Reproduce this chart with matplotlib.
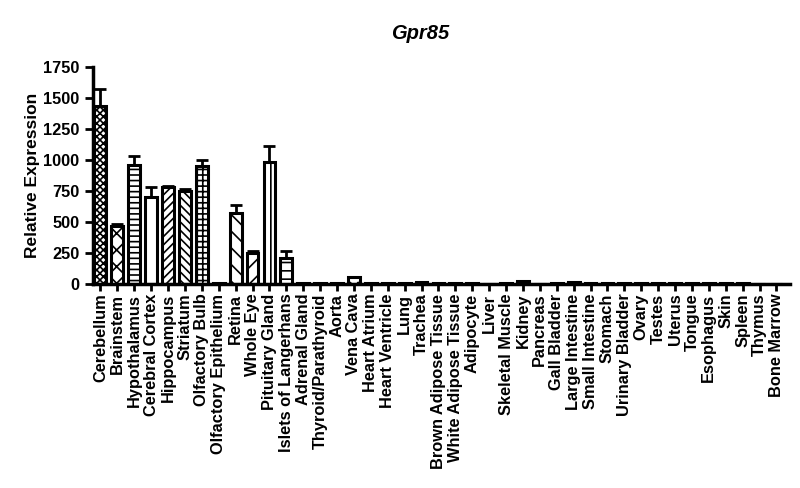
import numpy as np
import matplotlib
matplotlib.use("Agg")
from matplotlib import pyplot as plt

# tissue panel and expression values
tissues = ["Cerebellum", "Brainstem", "Hypothalamus", "Cerebral Cortex", "Hippocampus",
           "Striatum", "Olfactory Bulb", "Olfactory Epithelium", "Retina", "Whole Eye",
           "Pituitary Gland", "Islets of Langerhans", "Adrenal Gland", "Thyroid/Parathyroid",
           "Aorta", "Vena Cava", "Heart Atrium", "Heart Ventricle", "Lung", "Trachea",
           "Brown Adipose Tissue", "White Adipose Tissue", "Adipocyte", "Liver",
           "Skeletal Muscle", "Kidney", "Pancreas", "Gall Bladder", "Large Intestine",
           "Small Intestine", "Stomach", "Urinary Bladder", "Ovary", "Testes", "Uterus",
           "Tongue", "Esophagus", "Skin", "Spleen", "Thymus", "Bone Marrow"]
expr = [1435, 468, 962, 704, 782, 753, 954, 5, 575, 253,
        987, 212, 12, 8, 8, 55, 8, 5, 12, 14,
        5, 10, 10, 3, 5, 22, 3, 8, 14, 12,
        10, 10, 8, 6, 8, 8, 8, 6, 5, 3, 2]
sem = [135, 16, 73, 81, 8, 13, 49, 0, 59, 16,
       129, 54, 0, 0, 0, 0, 0, 0, 0, 0,
       0, 0, 0, 0, 0, 0, 0, 0, 0, 0,
       0, 0, 0, 0, 0, 0, 0, 0, 0, 0, 0]
hatches = ["xxxxx", "xx", "---", "|", "////", "\\\\\\\\", "+++", "", "\\\\", "//",
           "||", "--", "", "", "", "..", "", "", "", "",
           "", "", "", "", "", "", "", "", "", "",
           "", "", "", "", "", "", "", "", "", "", ""]

plt.rcParams["font.family"] = ["Liberation Sans", "DejaVu Sans"]
plt.rcParams["font.weight"] = "bold"
plt.rcParams["hatch.linewidth"] = 1.2

fig = plt.figure(figsize=(8, 4.88), dpi=100)
ax = fig.add_axes([0.116, 0.418, 0.8715, 0.445])

x = np.arange(len(tissues))
bars = ax.bar(x, expr, width=0.7, color="white", edgecolor="black", linewidth=2.2)
for b, h in zip(bars, hatches):
    b.set_hatch(h)
ax.errorbar(x, expr, yerr=[np.zeros(len(sem)), sem], fmt="none", ecolor="black",
            elinewidth=2, capsize=4, capthick=2)

ax.set_xlim(-0.45, 40.8)
ax.set_ylim(0, 1750)
ax.set_yticks(np.arange(0, 1751, 250))
ax.set_xticks(x)
ax.set_xticklabels(tissues, rotation=90, fontsize=11.8, fontweight="bold")
ax.tick_params(axis="y", labelsize=11.8, width=2, length=6, direction="out")
ax.tick_params(axis="x", width=2, length=5, direction="out", pad=2)
for lab in ax.get_yticklabels():
    lab.set_fontweight("bold")

for s in ["top", "right"]:
    ax.spines[s].set_visible(False)
for s in ["left", "bottom"]:
    ax.spines[s].set_linewidth(2.5)

ax.set_ylabel("Relative Expression", fontsize=12.5, fontweight="bold", labelpad=2)
fig.text(0.525, 0.932, "Gpr85", fontsize=14.5, fontweight="bold", style="italic",
         ha="center", va="center")

fig.savefig("out.png", dpi=100)
